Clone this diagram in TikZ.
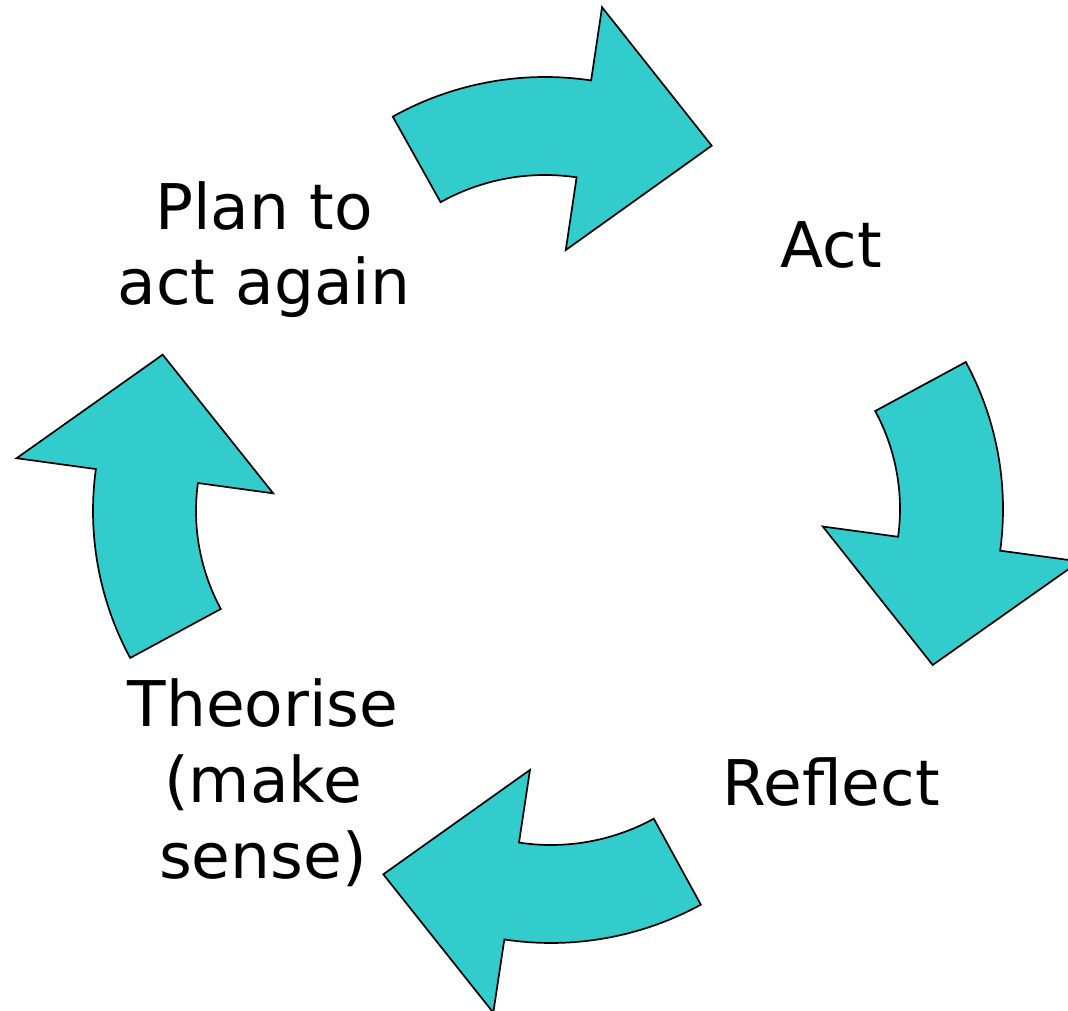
\documentclass[tikz,border=0pt]{standalone}
\usepackage{fontspec}
\setmainfont{DejaVu Sans}
\usetikzlibrary{calc}
\definecolor{arrowfill}{RGB}{51,204,204}
\tikzset{
  arrowshape/.style={fill=arrowfill, draw=black, line width=1.7pt, line join=miter},
  label/.style={align=center, inner sep=0pt, anchor=base, font=\fontsize{63}{75.6}\selectfont}
}
\begin{document}
\begin{tikzpicture}[x=1pt,y=1pt]
\useasboundingbox (0,0) rectangle (1068,1010);
\clip (0,0) rectangle (1068,1010);
\fill[white] (0,0) rectangle (1068,1010);
% centres of the arrow arcs
\coordinate (P1) at (545,621);
\coordinate (P2) at (694,501);
\coordinate (P3) at (551,379);
\coordinate (P4) at (402,499);
% top arrow
\path[arrowshape] ($(P1)+(119.2:312)$) arc[start angle=119.2, end angle=81.5, radius=312]
  -- ($(P1)+(81.5:386)$) -- (711.7,864.3) -- ($(P1)+(81.5:140.5)$) -- ($(P1)+(81.5:214)$)
  arc[start angle=81.5, end angle=119.2, radius=214] -- cycle;
% right arrow
\path[arrowshape] ($(P2)+(28.4:309)$) arc[start angle=28.4, end angle=-7.75, radius=309]
  -- ($(P2)+(-7.75:389)$) -- (932.7,345) -- ($(P2)+(-7.75:130)$) -- ($(P2)+(-7.75:206)$)
  arc[start angle=-7.75, end angle=28.4, radius=206] -- cycle;
% bottom arrow
\path[arrowshape] ($(P3)+(-61.3:312)$) arc[start angle=-61.3, end angle=-98.6, radius=312]
  -- ($(P3)+(-98.6:386)$) -- (383.3,135.7) -- ($(P3)+(-98.6:140.5)$) -- ($(P3)+(-98.6:214)$)
  arc[start angle=-98.6, end angle=-61.3, radius=214] -- cycle;
% left arrow
\path[arrowshape] ($(P4)+(208.4:309)$) arc[start angle=208.4, end angle=172.2, radius=309]
  -- ($(P4)+(172.2:389)$) -- (162.7,655.3) -- ($(P4)+(172.2:130)$) -- ($(P4)+(172.2:206)$)
  arc[start angle=172.2, end angle=208.4, radius=206] -- cycle;
% labels
\node[label] (plan) at (264,705) {Plan to\\act again};
\node[label] (act) at (831,742) {Act};
\node[label] (reflect) at (831,205) {Reflect};
\node[label] (theorise) at (263,132) {Theorise\\(make\\sense)};
\end{tikzpicture}
\end{document}
